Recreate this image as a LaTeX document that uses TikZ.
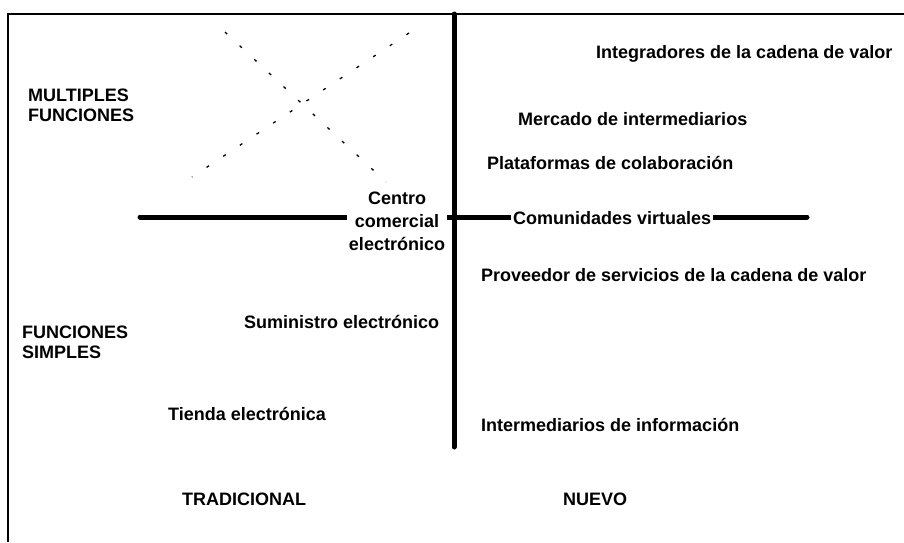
\documentclass[tikz,border=0pt]{standalone}
\usepackage{fontspec}
\setmainfont{Liberation Sans}
\begin{document}
\begin{tikzpicture}[x=1pt,y=-1pt,
  lbl/.style={font=\bfseries\fontsize{18}{20}\selectfont, inner sep=0pt, anchor=base west},
  blk/.style={font=\bfseries\fontsize{18}{20}\selectfont, inner sep=0pt, anchor=west, align=left},
  onaxis/.style={fill=white, inner xsep=2pt, inner ysep=0pt},
  axisline/.style={line width=5pt, line cap=round},
  framel/.style={line width=2pt},
  dotline/.style={line width=1.3pt, dash pattern=on 3pt off 17pt}]
\useasboundingbox (0,0) rectangle (904,542);
% frame
\coordinate (tl) at (8,14);
\coordinate (tr) at (904,14);
\coordinate (bl) at (8,542);
\draw[framel] (tr) -- (tl) -- (bl);
% axes
\coordinate (vtop) at (454,14);
\coordinate (vbot) at (454,447);
\coordinate (hl) at (140,217);
\coordinate (hr) at (807,217);
\draw[axisline] (vtop) -- (vbot);
\draw[axisline] (hl) -- (hr);
% dotted cross
\coordinate (d1a) at (225,32);
\coordinate (d1b) at (386,182);
\coordinate (d2a) at (409,33);
\coordinate (d2b) at (192,177);
\draw[dotline] (d1a) -- (d1b);
\draw[dotline] (d2a) -- (d2b);
% labels
\node[blk] (mf) at (28,105.5) {MULTIPLES\\FUNCIONES};
\node[blk] (fs) at (22,342) {FUNCIONES\\SIMPLES};
\node[font=\bfseries\fontsize{18}{23}\selectfont, align=center, onaxis] (cce) at (397,221.5) {Centro\\comercial\\electrónico};
\node[lbl, onaxis] (cv) at (511,224) {Comunidades virtuales};
\node[lbl] (icv) at (596,58) {Integradores de la cadena de valor};
\node[lbl] (mi) at (518,125) {Mercado de intermediarios};
\node[lbl] (pc) at (487,169) {Plataformas de colaboración};
\node[lbl] (ps) at (481,281) {Proveedor de servicios de la cadena de valor};
\node[lbl] (se) at (244,328) {Suministro electrónico};
\node[lbl] (te) at (168,420) {Tienda electrónica};
\node[lbl] (ii) at (481,431) {Intermediarios de información};
\node[lbl] (tr2) at (182,505) {TRADICIONAL};
\node[lbl] (nu) at (563,505) {NUEVO};
\end{tikzpicture}
\end{document}
